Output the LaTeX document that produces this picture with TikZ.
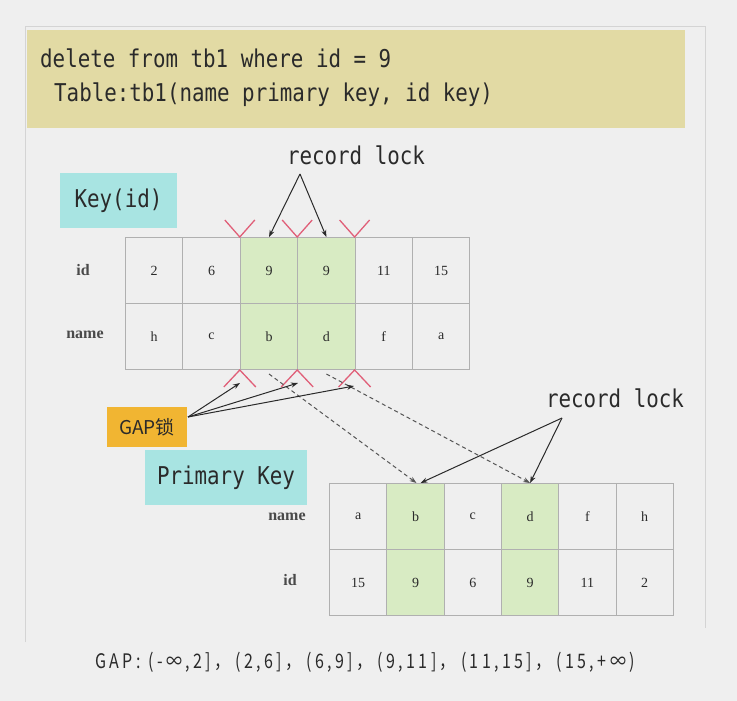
\documentclass[tikz,border=0pt]{standalone}
\usepackage{fontspec}
\setmainfont{Liberation Serif}
\newfontfamily\codefont[FakeStretch=0.85]{DejaVu Sans Mono}
\newfontfamily\cjkfont{Noto Sans CJK SC}
\newfontfamily\gapfont[FakeStretch=0.8,LetterSpace=17]{Noto Sans CJK SC}
\usetikzlibrary{arrows.meta}
\definecolor{bgc}{HTML}{EFEFEF}
\definecolor{panelline}{HTML}{D4D4D4}
\definecolor{sqlbg}{HTML}{E2DAA4}
\definecolor{keybg}{HTML}{A8E4E2}
\definecolor{gapbg}{HTML}{F1B532}
\definecolor{hitbg}{HTML}{D8EBC3}
\definecolor{gridc}{HTML}{B0B0B0}
\definecolor{vmarkc}{HTML}{E05F78}
\definecolor{inkc}{HTML}{2A2A2A}
\tikzset{
  codetext/.style={inner sep=0, font=\codefont\fontsize{24.5}{26}\selectfont, text=inkc},
  cell/.style={draw=gridc, line width=1pt, minimum width=57.4, minimum height=66, inner sep=0, font=\fontsize{14}{16}\selectfont, text=inkc},
  plain/.style={},
  hit/.style={fill=hitbg},
  rowlabel/.style={inner sep=0, font=\bfseries\fontsize{16}{18}\selectfont, text=inkc!85},
  vmark/.style={draw=vmarkc, line width=1.3pt},
  arr/.style={draw=inkc, line width=1pt, -{Stealth[length=7pt,width=5pt]}},
  dasharr/.style={draw=inkc!80, line width=1pt, dash pattern=on 4pt off 3pt, -{Stealth[length=7pt,width=5pt]}},
  keybox/.style={fill=keybg, inner sep=0, font=\codefont\fontsize{24.5}{26}\selectfont, text=inkc},
  gapbox/.style={fill=gapbg, inner sep=0, font=\cjkfont\fontsize{19}{21}\selectfont, text=inkc},
}
\begin{document}
\begin{tikzpicture}[x=1pt,y=-1pt]
\fill[bgc] (0,0) rectangle (737,701);
\useasboundingbox (0,0) rectangle (737,701);
\draw[panelline, line width=1pt] (25,642) -- (25,27) -- (705,27) -- (705,628);
% SQL box
\node[fill=sqlbg, minimum width=658, minimum height=98, anchor=north west, inner sep=0] (sql) at (27,30) {};
\node[codetext, anchor=west] (l1) at (40,58) {delete from tb1 where id = 9};
\node[codetext, anchor=west] (l2) at (54,95) {Table:tb1(name primary key, id key)};
% key boxes
\node[keybox, minimum width=117, minimum height=55] (keyid) at (118.5,200.5) {Key(id)};
\node[keybox, minimum width=162, minimum height=55] (pkey) at (226,477.5) {Primary Key};
% top table
\foreach \v/\s [count=\i] in {2/plain,6/plain,9/hit,9/hit,11/plain,15/plain}
  \node[cell,\s,anchor=north west] (ti\i) at ({125+(\i-1)*57.4},237) {\v};
\foreach \v/\s [count=\i] in {h/plain,c/plain,b/hit,d/hit,f/plain,a/plain}
  \node[cell,\s,anchor=north west] (tn\i) at ({125+(\i-1)*57.4},303) {\v};
\node[rowlabel] (tlid) at (83,270) {id};
\node[rowlabel] (tlname) at (85,335) {name};
% bottom table
\foreach \v/\s [count=\i] in {a/plain,b/hit,c/plain,d/hit,f/plain,h/plain}
  \node[cell,\s,anchor=north west] (bn\i) at ({329+(\i-1)*57.3},483) {\v};
\foreach \v/\s [count=\i] in {15/plain,9/hit,6/plain,9/hit,11/plain,2/plain}
  \node[cell,\s,anchor=north west] (bi\i) at ({329+(\i-1)*57.3},549) {\v};
\node[rowlabel] (blname) at (287,517) {name};
\node[rowlabel] (blid) at (290,580) {id};
% V marks
\foreach \n in {ti3,ti4,ti5}
  \draw[vmark] (\n.north west) ++(-15,-17) -- ++(15,17) -- ++(15,-17);
\foreach \n in {tn3,tn4,tn5}
  \draw[vmark] (\n.south west) ++(-16,17) -- ++(16,-17) -- ++(16,17);
% record lock top
\node[codetext] (rl1) at (356,155) {record lock};
\coordinate (rl1a) at (300,174);
\draw[arr] (rl1a) -- (ti3.north);
\draw[arr] (rl1a) -- (ti4.north);
% dashed
\draw[dasharr] ([yshift=-4pt]tn3.south) -- ([xshift=1pt]bn2.north);
\draw[dasharr] ([yshift=-4pt]tn4.south) -- (bn4.north);
% GAP box
\node[gapbox, minimum width=80, minimum height=40] (gap) at (147,427) {GAP锁};
\coordinate (gs) at (188,417);
\coordinate (g1) at (240,383);
\coordinate (g2) at (298,383);
\coordinate (g3) at (354,386);
\draw[arr] (gs) -- (g1);
\draw[arr] (gs) -- (g2);
\draw[arr] (gs) -- (g3);
% record lock bottom
\node[codetext] (rl2) at (615,398) {record lock};
\coordinate (rl2a) at (562,418);
\draw[arr] (rl2a) -- ([xshift=5pt]bn2.north);
\draw[arr] (rl2a) -- (bn4.north);
% gap list
\node[inner sep=0, font=\gapfont\fontsize{20}{22}\selectfont, text=inkc] (gapline) at (365,662) {GAP:\hspace{8pt}(-∞,2]，\hspace{5pt}(2,6]，\hspace{5pt}(6,9]，\hspace{5pt}(9,11]，\hspace{5pt}(11,15]，\hspace{5pt}(15,+∞)};
\end{tikzpicture}
\end{document}
